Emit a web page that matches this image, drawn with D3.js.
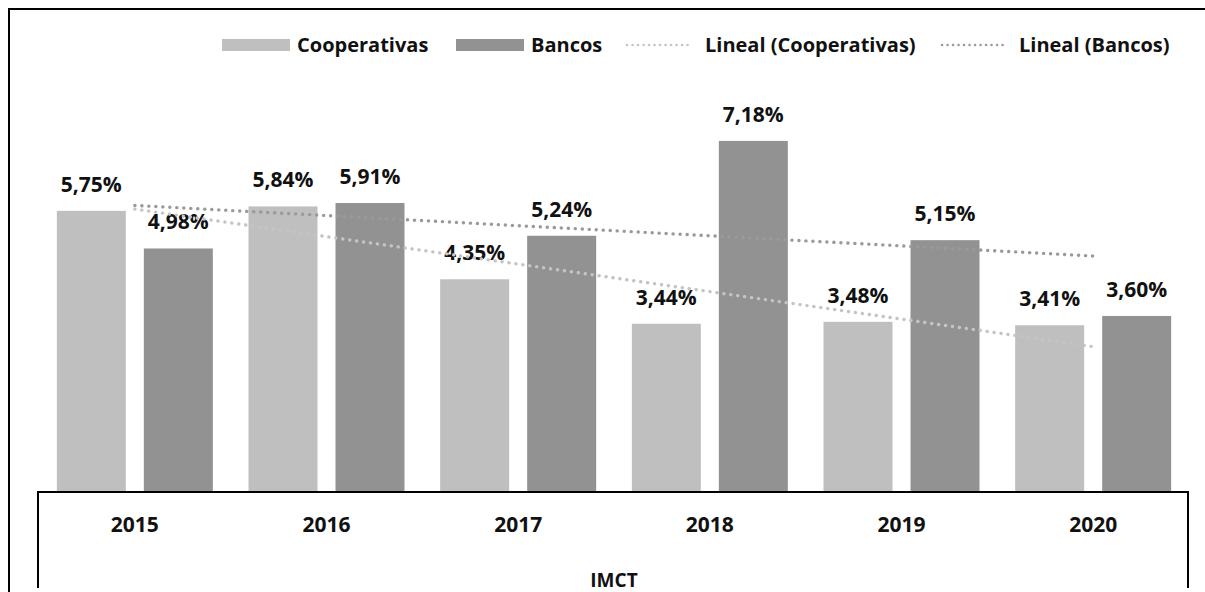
<!DOCTYPE html>
<html>
<head>
<meta charset="utf-8">
<script src="https://cdn.jsdelivr.net/npm/d3@7"></script>
<style>
  html, body { margin: 0; padding: 0; background: #fff; }
  svg { display: block; }
  text { font-family: "Open Sans", "DejaVu Sans", sans-serif; font-weight: 700; fill: #111; }
</style>
</head>
<body>
<svg id="chart" width="1205" height="592"></svg>
<script>
// IMCT por año: cooperativas frente a bancos (%)
const years = ["2015", "2016", "2017", "2018", "2019", "2020"];
const seriesNames = ["Cooperativas", "Bancos"];
const cooperativas = [5.75, 5.84, 4.35, 3.44, 3.48, 3.41];
const bancos = [4.98, 5.91, 5.24, 7.18, 5.15, 3.60];
const axisTitle = "IMCT";
const trendNames = ["Lineal (Cooperativas)", "Lineal (Bancos)"];

const colors = { Cooperativas: "#bfbfbf", Bancos: "#929292" };
const trendColors = { Cooperativas: "#c4c4c4", Bancos: "#9a9a9a" };

const svg = d3.select("#chart");
const W = 1205, H = 592;
const plot = { left: 39, right: 1189, top: 100.8, bottom: 492 };

// outer frame (top and left edges visible)
svg.append("path")
  .attr("d", `M9,${H} L9,9 L${W},9`)
  .attr("fill", "none").attr("stroke", "#000").attr("stroke-width", 2);

const x0 = d3.scaleBand().domain(years).range([plot.left, plot.right]).padding(0);
const x1 = d3.scaleBand().domain(seriesNames).range([0, x0.bandwidth()])
  .paddingInner(0.207).paddingOuter(0.205);
const y = d3.scaleLinear().domain([0, 8]).range([plot.bottom, plot.top]);

const rows = years.map((yr, i) => ({
  year: yr,
  values: [
    { key: "Cooperativas", value: cooperativas[i] },
    { key: "Bancos", value: bancos[i] }
  ]
}));

const fmt = v => d3.format(".2f")(v).replace(".", ",") + "%";

// bars
const groups = svg.append("g").selectAll("g").data(rows).join("g")
  .attr("transform", d => `translate(${x0(d.year)},0)`);

groups.selectAll("rect").data(d => d.values).join("rect")
  .attr("x", d => x1(d.key))
  .attr("y", d => y(d.value))
  .attr("width", x1.bandwidth())
  .attr("height", d => y(0) - y(d.value))
  .attr("fill", d => colors[d.key]);

// linear trend lines (least squares over the category index)
function linearFit(vals) {
  const n = vals.length;
  const xs = vals.map((_, i) => i + 1);
  const mx = d3.mean(xs), my = d3.mean(vals);
  const sxy = d3.sum(xs, (xv, i) => (xv - mx) * (vals[i] - my));
  const sxx = d3.sum(xs, xv => (xv - mx) ** 2);
  const b = sxy / sxx, a = my - b * mx;
  return [a + b * 1, a + b * n];
}
const cx = yr => x0(yr) + x0.bandwidth() / 2;
const trends = [
  { key: "Cooperativas", ends: linearFit(cooperativas) },
  { key: "Bancos", ends: linearFit(bancos) }
];
svg.append("g").selectAll("line").data(trends).join("line")
  .attr("x1", cx(years[0]))
  .attr("x2", cx(years[years.length - 1]))
  .attr("y1", d => y(d.ends[0]))
  .attr("y2", d => y(d.ends[1]))
  .attr("stroke", d => trendColors[d.key])
  .attr("stroke-width", 3.4)
  .attr("stroke-linecap", "round")
  .attr("stroke-dasharray", "0.1 6.9");

// data labels
groups.selectAll("text").data(d => d.values).join("text")
  .attr("x", d => x1(d.key) + x1.bandwidth() / 2)
  .attr("y", d => y(d.value) - 19)
  .attr("text-anchor", "middle")
  .attr("font-size", 21)
  .text(d => fmt(d.value));

// category axis box
svg.append("path")
  .attr("d", `M38,588 L38,${plot.bottom} L1188,${plot.bottom} L1188,588`)
  .attr("fill", "none").attr("stroke", "#000").attr("stroke-width", 2);

const xAxis = d3.axisBottom(x0).tickSize(0).tickPadding(0);
const gx = svg.append("g").attr("transform", `translate(0,${plot.bottom})`).call(xAxis);
gx.select(".domain").remove();
gx.selectAll(".tick text")
  .attr("y", 40)
  .attr("dy", 0)
  .attr("font-size", 21)
  .attr("font-family", "'Open Sans', 'DejaVu Sans', sans-serif")
  .attr("font-weight", 700)
  .attr("fill", "#111");

svg.append("text")
  .attr("x", (plot.left + plot.right) / 2)
  .attr("y", 587)
  .attr("text-anchor", "middle")
  .attr("font-size", 19)
  .text(axisTitle);

// legend
const legendItems = [
  { label: seriesNames[0], type: "rect", color: colors.Cooperativas, x: 222, tx: 297 },
  { label: seriesNames[1], type: "rect", color: colors.Bancos, x: 456, tx: 531 },
  { label: trendNames[0], type: "line", color: trendColors.Cooperativas, x: 627, tx: 705 },
  { label: trendNames[1], type: "line", color: trendColors.Bancos, x: 942, tx: 1019 }
];
const lg = svg.append("g");
legendItems.forEach(it => {
  if (it.type === "rect") {
    lg.append("rect").attr("x", it.x).attr("y", 39).attr("width", 68).attr("height", 12)
      .attr("fill", it.color);
  } else {
    lg.append("line").attr("x1", it.x).attr("x2", it.x + 66).attr("y1", 45).attr("y2", 45)
      .attr("stroke", it.color).attr("stroke-width", 2.5)
      .attr("stroke-linecap", "round").attr("stroke-dasharray", "0.1 5.4");
  }
  lg.append("text").attr("x", it.tx).attr("y", 52).attr("font-size", 20).text(it.label);
});
</script>
</body>
</html>
